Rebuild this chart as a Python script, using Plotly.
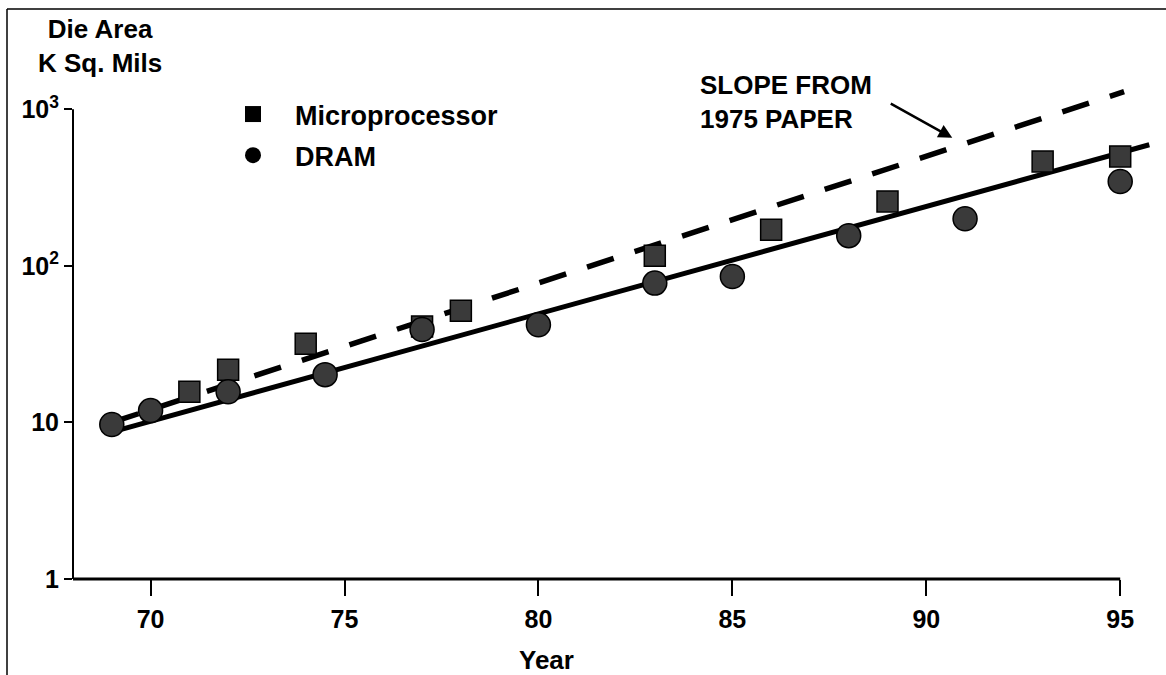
import plotly.graph_objects as go

# ---------------- data ----------------
micro_years = [71, 72, 74, 77, 78, 83, 86, 89, 93, 95]
micro_area = [15.7, 21.7, 31.8, 41, 51.7, 116, 170, 258, 464, 500]

dram_years = [69, 70, 72, 74.5, 77, 80, 83, 85, 88, 91, 95]
dram_area = [9.7, 11.9, 15.7, 20.2, 39.2, 42.1, 77.6, 85.6, 156, 200, 346]

fit_years = [69.2, 95.75]
fit_area = [8.97, 594]

paper_years = [69.0, 95.1]
paper_area = [10.0, 1297]

x_ticks = [70, 75, 80, 85, 90, 95]
y_ticks = [1, 10, 100, 1000]
y_ticktext = ["1", "10", "10<sup>2</sup>", "10<sup>3</sup>"]

X_MIN, X_MAX, X_AXIS_END = 68, 96, 95
Y_LOG_MIN, Y_LOG_MAX, Y_LOG_AXIS_END = 0, 3.2, 3

FONT = "Liberation Sans, Arial, Helvetica, sans-serif"
W, H = 1166, 675
L, R, T, B = 73, 7, 78, 96
PW, PH = W - L - R, H - T - B


def px(x):
    return (x - L) / PW


def py(y):
    return (H - B - y) / PH


fig = go.Figure()

fig.add_trace(go.Scatter(x=paper_years, y=paper_area, mode="lines",
                         line=dict(color="black", width=5.5, dash="28px,22px"),
                         showlegend=False, hoverinfo="skip"))
fig.add_trace(go.Scatter(x=fit_years, y=fit_area, mode="lines",
                         line=dict(color="black", width=5),
                         showlegend=False, hoverinfo="skip"))
fig.add_trace(go.Scatter(x=micro_years, y=micro_area, mode="markers",
                         marker=dict(symbol="square", size=21, color="#3a3a3a",
                                     line=dict(color="black", width=1.5)),
                         cliponaxis=False, showlegend=False, name="Microprocessor"))
fig.add_trace(go.Scatter(x=dram_years, y=dram_area, mode="markers",
                         marker=dict(symbol="circle", size=24, color="#3a3a3a",
                                     line=dict(color="black", width=1.5)),
                         cliponaxis=False, showlegend=False, name="DRAM"))

# legend entries (solid black keys)
fig.add_trace(go.Scatter(x=[None], y=[None], mode="markers", name="Microprocessor",
                         marker=dict(symbol="square", size=22, color="black"),
                         legendgroup="a"))
fig.add_trace(go.Scatter(x=[None], y=[None], mode="markers", name="DRAM",
                         marker=dict(symbol="circle", size=24, color="black"),
                         legendgroup="b"))

fig.update_layout(
    width=W, height=H,
    margin=dict(l=L, r=R, t=T, b=B),
    paper_bgcolor="white", plot_bgcolor="white",
    font=dict(family=FONT, size=25, color="black", weight="bold"),
    showlegend=True,
    legend=dict(x=px(211), y=py(90), xanchor="left", yanchor="top",
                bgcolor="rgba(0,0,0,0)", traceorder="grouped", tracegroupgap=3,
                font=dict(family=FONT, size=27, color="black", weight="bold"),
                itemsizing="trace", itemwidth=74),
    xaxis=dict(range=[X_MIN, X_MAX], tickvals=x_ticks, ticks="outside", ticklen=16,
               tickwidth=2, tickcolor="black", showline=False, showgrid=False,
               zeroline=False, ticklabelstandoff=2,
               tickfont=dict(family=FONT, size=25, color="black", weight="bold")),
    yaxis=dict(type="log", range=[Y_LOG_MIN, Y_LOG_MAX], tickvals=y_ticks,
               ticktext=y_ticktext, ticks="outside", ticklen=8, tickwidth=2,
               tickcolor="black", showline=False, showgrid=False, zeroline=False,
               tickfont=dict(family=FONT, size=25, color="black", weight="bold")),
)

# axis lines (stop at 95 and at 10^3 like the original)
fig.add_shape(type="line", xref="paper", yref="paper",
              x0=0, x1=(X_AXIS_END - X_MIN) / (X_MAX - X_MIN), y0=0, y1=0,
              line=dict(color="black", width=3))
fig.add_shape(type="line", xref="paper", yref="paper",
              x0=0, x1=0, y0=0,
              y1=(Y_LOG_AXIS_END - Y_LOG_MIN) / (Y_LOG_MAX - Y_LOG_MIN),
              line=dict(color="black", width=2))

fig.add_annotation(xref="paper", yref="paper", x=px(100), y=py(12),
                   xanchor="center", yanchor="top", showarrow=False,
                   text="Die Area<br>K Sq. Mils", align="center",
                   font=dict(family=FONT, size=26, color="black", weight="bold"))

fig.add_annotation(xref="paper", yref="paper", x=px(546), y=py(660),
                   xanchor="center", yanchor="middle", showarrow=False,
                   text="Year",
                   font=dict(family=FONT, size=26, color="black", weight="bold"))

fig.add_annotation(xref="paper", yref="paper", x=px(698), y=py(68),
                   xanchor="left", yanchor="top", showarrow=False,
                   text="SLOPE FROM<br>1975 PAPER", align="left",
                   font=dict(family=FONT, size=26, color="black", weight="bold"))

# arrow pointing at the dashed line
fig.add_annotation(xref="x", yref="y", x=90.67, y=2.818, text="",
                   showarrow=True, ax=-63, ay=-35, arrowhead=2, arrowsize=1.1,
                   arrowwidth=2.5, arrowcolor="black", standoff=0)

# frame lines (top and left edges of the scanned figure)
fig.add_shape(type="line", xref="paper", yref="paper",
              x0=px(7), x1=px(1166), y0=py(9), y1=py(9),
              line=dict(color="black", width=1.5))
fig.add_shape(type="line", xref="paper", yref="paper",
              x0=px(7), x1=px(7), y0=py(9), y1=py(675),
              line=dict(color="black", width=1.5))

fig.write_html("out.html")
